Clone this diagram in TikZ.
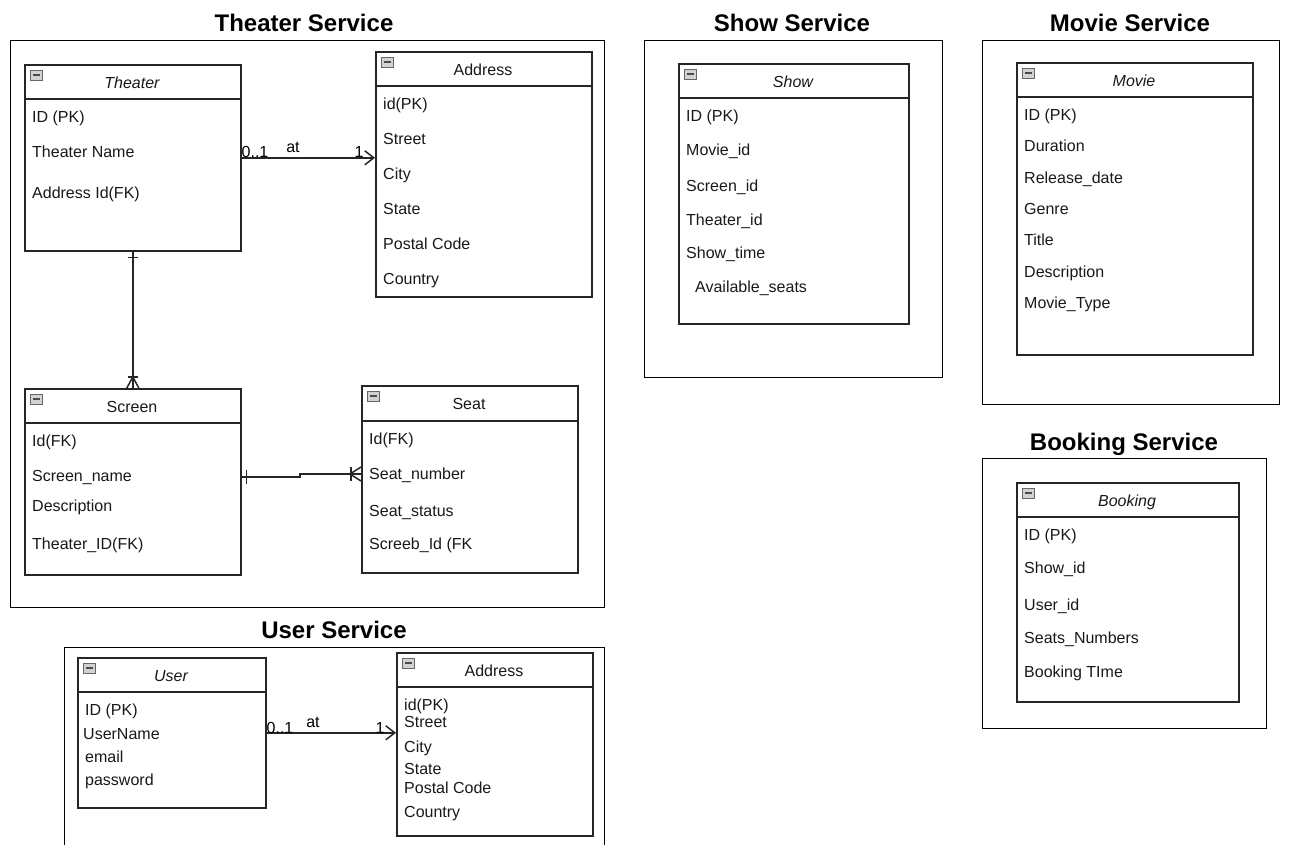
\documentclass[tikz,border=0pt]{standalone}
\usepackage{fontspec}
\setmainfont{Liberation Sans}
\usetikzlibrary{arrows.meta}
\tikzset{
  x=1pt, y=-1pt,
  frame/.style={draw=black, line width=1pt},
  entity/.style={draw=black!85, line width=1.6pt, anchor=north west, inner sep=0pt},
  hdr/.style={draw=black!85, line width=1.6pt},
  field/.style={anchor=west, inner sep=0pt, font=\fontsize{16}{18}\selectfont, text height=11.5pt, text depth=0pt, text=black!90},
  ttl/.style={inner sep=0pt, font=\fontsize{16}{18}\selectfont, text height=11.5pt, text depth=0pt, text=black!90},
  svc/.style={inner sep=0pt, font=\fontsize{24}{27}\selectfont\bfseries, text height=17pt, text depth=0pt},
  conn/.style={draw=black!85, line width=1.5pt},
  lbl/.style={inner sep=0pt, font=\fontsize{16}{18}\selectfont, text height=11.5pt, text depth=0pt},
  openhead/.style={-{Straight Barb[length=9pt,width=14pt,line width=1.5pt]}},
}
% name, x1, y1, x2, y2, header y, title font, title
\newcommand\entitybox[8]{%
  \node[entity, minimum width={(#4-#2)*1pt}, minimum height={(#5-#3)*1pt}] (#1) at (#2,#3) {};
  \draw[hdr] (#2,#6) -- (#4,#6);
  \node[ttl, font=\fontsize{16}{18}\selectfont#7] (#1t) at ({(#2+#4)/2},{(#3+#6)/2+1}) {#8};
  \draw[gray!80!black, fill=gray!35, line width=0.7pt] (#2+6,#3+6) rectangle ++(12,10);
  \draw[black!70, line width=1.5pt] (#2+8.5,#3+11) -- ++(7,0);
}
\begin{document}
\begin{tikzpicture}
\useasboundingbox (0,0) rectangle (1298,844);
\fill[white] (0,0) rectangle (1298,844);

% ===== Theater Service =====
\node[svc] (tsT) at (304,23) {Theater Service};
\draw[frame] (10,40) rectangle (604,607);

\entitybox{theater}{24}{64}{240}{250}{99}{\itshape}{Theater}
\node[field] (th1) at (32,117) {ID (PK)};
\node[field] (th2) at (32,152) {Theater Name};
\node[field] (th3) at (32,193) {Address Id(FK)};

\entitybox{taddr}{375}{51}{591}{296}{86}{}{Address}
\node[field] (ta1) at (383,104) {id(PK)};
\node[field] (ta2) at (383,139) {Street};
\node[field] (ta3) at (383,174) {City};
\node[field] (ta4) at (383,209) {State};
\node[field] (ta5) at (383,244) {Postal Code};
\node[field] (ta6) at (383,279) {Country};

\draw[conn, openhead] (theater.east) -- (taddr.west |- theater.east);
\node[lbl] (l01a) at (255,152) {0..1};
\node[lbl] (lata) at (293,147) {at};
\node[lbl] (l1a) at (359,152) {1};

\entitybox{screen}{24}{388}{240}{574}{423}{}{Screen}
\node[field] (sc1) at (32,441) {Id(FK)};
\node[field] (sc2) at (32,476) {Screen\_name};
\node[field] (sc3) at (32,506) {Description};
\node[field] (sc4) at (32,544) {Theater\_ID(FK)};

\entitybox{seat}{361}{385}{577}{572}{421}{}{Seat}
\node[field] (se1) at (369,439) {Id(FK)};
\node[field] (se2) at (369,474) {Seat\_number};
\node[field] (se3) at (369,511) {Seat\_status};
\node[field] (se4) at (369,544) {Screeb\_Id (FK};

% Theater -- Screen (one to many)
\draw[conn] (theater.south) -- (screen.north);
\draw[conn] ([xshift=-5pt,yshift=-6pt]theater.south) -- ++(10,0);
\draw[conn] ([xshift=-5pt,yshift=11pt]screen.north) -- ++(10,0);
\draw[conn] ([xshift=-6pt]screen.north) -- ([yshift=11pt]screen.north) -- ([xshift=6pt]screen.north);

% Screen -- Seat (one to many)
\coordinate (ss1) at (300,477);
\coordinate (ss2) at (300,474);
\draw[conn] (screen.east |- ss1) -- (ss1) -- (ss2) -- (seat.west |- ss2);
\draw[conn] ([xshift=5pt]screen.east |- ss1) ++(0,-7) -- ++(0,14);
\draw[conn] ([xshift=-10pt]seat.west |- ss2) ++(0,-7) -- ++(0,14);
\draw[conn] ([yshift=-7pt]seat.west |- ss2) -- ([xshift=-11pt]seat.west |- ss2) -- ([yshift=7pt]seat.west |- ss2);

% ===== Show Service =====
\node[svc] (shT) at (792,23) {Show Service};
\draw[frame] (644,40) rectangle (942,377);
\entitybox{show}{678}{63}{908}{323}{98}{\itshape}{Show}
\node[field] (sh1) at (686,116) {ID (PK)};
\node[field] (sh2) at (686,150) {Movie\_id};
\node[field] (sh3) at (686,186) {Screen\_id};
\node[field] (sh4) at (686,220) {Theater\_id};
\node[field] (sh5) at (686,253) {Show\_time};
\node[field] (sh6) at (695,287) {Available\_seats};

% ===== Movie Service =====
\node[svc] (mvT) at (1130,23) {Movie Service};
\draw[frame] (982,40) rectangle (1279,404);
\entitybox{movie}{1016}{62}{1252}{354}{97}{\itshape}{Movie}
\node[field] (mv1) at (1024,115) {ID (PK)};
\node[field] (mv2) at (1024,146) {Duration};
\node[field] (mv3) at (1024,178) {Release\_date};
\node[field] (mv4) at (1024,209) {Genre};
\node[field] (mv5) at (1024,240) {Title};
\node[field] (mv6) at (1024,272) {Description};
\node[field] (mv7) at (1024,303) {Movie\_Type};

% ===== Booking Service =====
\node[svc] (bkT) at (1124,442) {Booking Service};
\draw[frame] (982,458) rectangle (1266,728);
\entitybox{booking}{1016}{482}{1238}{701}{517}{\itshape}{Booking}
\node[field] (bk1) at (1024,535) {ID (PK)};
\node[field] (bk2) at (1024,568) {Show\_id};
\node[field] (bk3) at (1024,605) {User\_id};
\node[field] (bk4) at (1024,638) {Seats\_Numbers};
\node[field] (bk5) at (1024,672) {Booking TIme};

% ===== User Service =====
\node[svc] (usT) at (334,630) {User Service};
\draw[frame] (64,846) -- (64,647) -- (604,647) -- (604,846);
\entitybox{user}{77}{657}{265}{807}{692}{\itshape}{User}
\node[field] (us1) at (85,710) {ID (PK)};
\node[field] (us2) at (83,734) {UserName};
\node[field] (us3) at (85,757) {email};
\node[field] (us4) at (85,780) {password};

\entitybox{uaddr}{396}{652}{592}{835}{687}{}{Address}
\node[field] (ua1) at (404,705) {id(PK)};
\node[field] (ua2) at (404,722) {Street};
\node[field] (ua3) at (404,747) {City};
\node[field] (ua4) at (404,769) {State};
\node[field] (ua5) at (404,788) {Postal Code};
\node[field] (ua6) at (404,812) {Country};

\draw[conn, openhead] (user.east) -- (uaddr.west |- user.east);
\node[lbl] (l01b) at (280,728) {0..1};
\node[lbl] (latb) at (313,722) {at};
\node[lbl] (l1b) at (380,728) {1};
\end{tikzpicture}
\end{document}
